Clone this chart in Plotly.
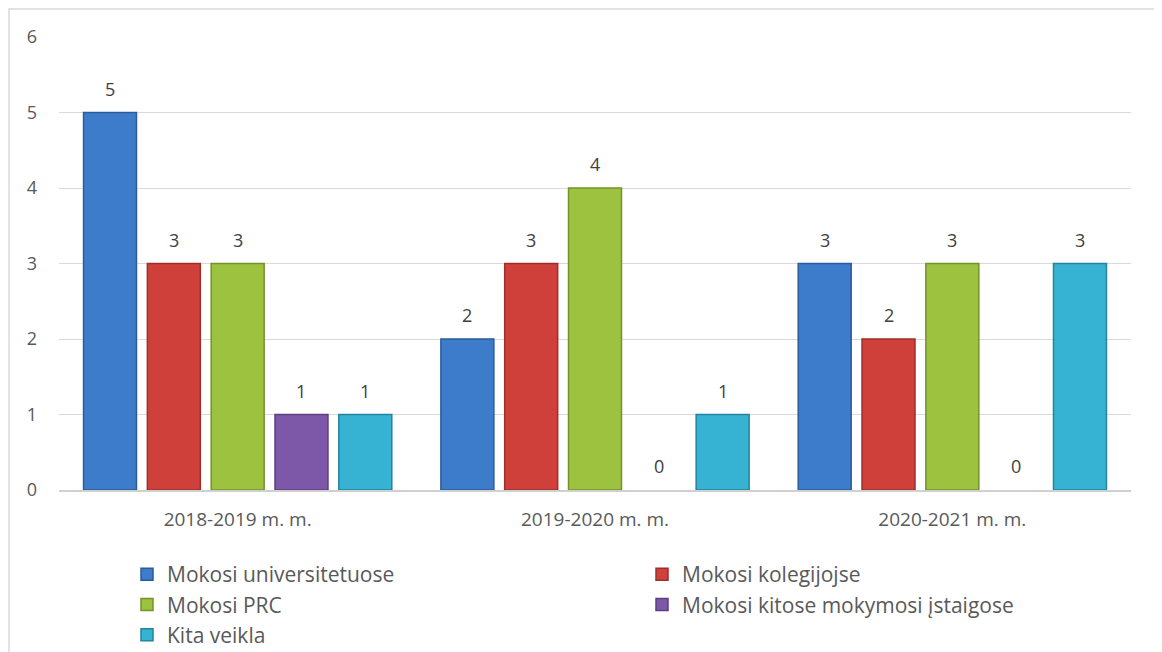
import plotly.graph_objects as go

categories = ["2018-2019 m. m.", "2019-2020 m. m.", "2020-2021 m. m."]
series_names = ["Mokosi universitetuose", "Mokosi kolegijojse", "Mokosi PRC",
                "Mokosi kitose mokymosi įstaigose", "Kita veikla"]
universitetuose = [5, 2, 3]
kolegijojse = [3, 3, 2]
prc = [3, 4, 3]
kitose = [1, 0, 0]
kita_veikla = [1, 1, 3]
y_ticks = [0, 1, 2, 3, 4, 5, 6]

series_values = [universitetuose, kolegijojse, prc, kitose, kita_veikla]
colors = ["#3D7CCB", "#D0403B", "#9DC23F", "#7E58A8", "#36B3D3"]
edges = ["#2A5C9A", "#9E2E2A", "#74922C", "#5C3F80", "#23849E"]

FONT = "'Open Sans', Lato, sans-serif"
BARGAP = 0.107

fig = go.Figure()
for name, vals, c, e in zip(series_names, series_values, colors, edges):
    fig.add_trace(go.Bar(
        name=name, x=categories, y=vals,
        marker=dict(color=c, line=dict(color=e, width=[1.5 if v > 0 else 0 for v in vals])),
    ))

# value labels placed above each bar through the axes
n = len(series_values)
slot = (1 - BARGAP) / n
annotations = []
for i, vals in enumerate(series_values):
    for j, v in enumerate(vals):
        annotations.append(dict(
            x=j + (i - (n - 1) / 2) * slot, y=v, xref="x", yref="y",
            text=str(v), showarrow=False, yshift=24, yanchor="middle",
            font=dict(size=18, color="#404040", family=FONT),
        ))

# page is offset by the body margin (8px)
OFF = 8
W, H = 1162, 652
ml, mr, mt, mb = 59 - OFF, 31 + OFF, 37 - OFF, 162 + OFF
pw, ph = W - ml - mr, H - mt - mb

def px_x(p):
    return (p - OFF - ml) / pw

def px_y(p):
    return (H - mb - (p - OFF)) / ph

fig.update_layout(
    width=W, height=H,
    margin=dict(l=ml, r=mr, t=mt, b=mb, autoexpand=False),
    paper_bgcolor="white", plot_bgcolor="white",
    barmode="group", bargap=BARGAP, bargroupgap=0.17,
    font=dict(family=FONT, color="#595959"),
    xaxis=dict(tickfont=dict(size=19, color="#595959"), showline=True,
               linecolor="#D0D0D0", linewidth=1.5, ticks="", showgrid=False,
               ticklabelstandoff=11),
    yaxis=dict(range=[0, 6], tickvals=y_ticks, showgrid=True, gridcolor="#D9D9D9",
               gridwidth=1, zeroline=False, tickfont=dict(size=18, color="#595959"),
               ticklabelstandoff=21),
    legend=dict(orientation="h", x=px_x(127), xanchor="left", y=px_y(554), yanchor="top",
                font=dict(size=21, color="#595959", family=FONT),
                entrywidth=470, entrywidthmode="pixels", tracegroupgap=0,
                itemwidth=30, traceorder="normal", bgcolor="rgba(0,0,0,0)"),
    showlegend=True,
    annotations=annotations,
    shapes=[dict(type="rect", xref="paper", yref="paper",
                 x0=px_x(9), x1=px_x(1160), y0=px_y(700), y1=px_y(9),
                 line=dict(color="#D9D9D9", width=1.5), layer="below")],
)

fig.write_html("out.html")
